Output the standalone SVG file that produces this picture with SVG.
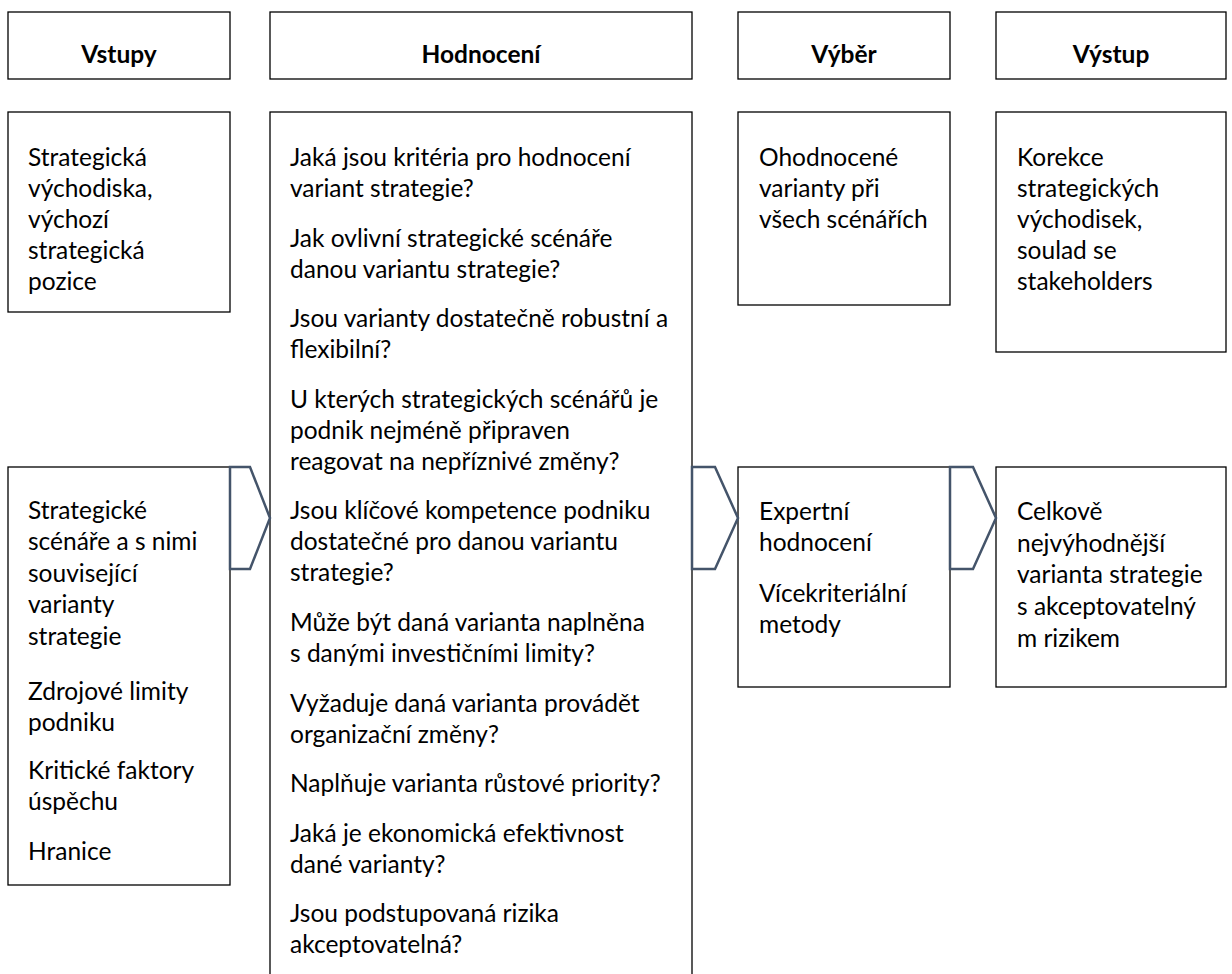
<svg xmlns="http://www.w3.org/2000/svg" width="1232" height="974" viewBox="0 0 1232 974">
  <style>
    .box{fill:#fff;stroke:#000;stroke-width:1.3}
    .t{font-family:Lato,"Open Sans","Liberation Sans",sans-serif;font-size:24.5px;fill:#000}
    .h{font-weight:bold;text-anchor:middle}
    .chev{fill:#fff;stroke:#44546A;stroke-width:2.5;stroke-linejoin:miter}
  </style>
  <rect width="1232" height="974" fill="#fff"/>

  <!-- column headers -->
  <g id="head-vstupy">
    <rect class="box" x="8" y="12" width="222" height="67"/>
    <text class="t h" x="119" y="63">Vstupy</text>
  </g>
  <g id="head-hodnoceni">
    <rect class="box" x="270" y="12" width="422" height="67"/>
    <text class="t h" x="481" y="63">Hodnocení</text>
  </g>
  <g id="head-vyber">
    <rect class="box" x="738" y="12" width="212" height="67"/>
    <text class="t h" x="844" y="63">Výběr</text>
  </g>
  <g id="head-vystup">
    <rect class="box" x="996" y="12" width="230" height="67"/>
    <text class="t h" x="1111" y="63">Výstup</text>
  </g>

  <!-- upper row -->
  <g id="vychodiska">
    <rect class="box" x="8" y="112" width="222" height="200"/>
    <text class="t">
      <tspan x="28" y="166">Strategická</tspan>
      <tspan x="28" y="197">východiska,</tspan>
      <tspan x="28" y="228">výchozí</tspan>
      <tspan x="28" y="259">strategická</tspan>
      <tspan x="28" y="290">pozice</tspan>
    </text>
  </g>

  <g id="otazky">
    <rect class="box" x="270" y="112" width="422" height="880"/>
    <text class="t">
      <tspan x="290" y="166">Jaká jsou kritéria pro hodnocení</tspan>
      <tspan x="290" y="197">variant strategie?</tspan>
      <tspan x="290" y="247">Jak ovlivní strategické scénáře</tspan>
      <tspan x="290" y="278">danou variantu strategie?</tspan>
      <tspan x="290" y="327">Jsou varianty dostatečně robustní a</tspan>
      <tspan x="290" y="358">flexibilní?</tspan>
      <tspan x="290" y="408">U kterých strategických scénářů je</tspan>
      <tspan x="290" y="439">podnik nejméně připraven</tspan>
      <tspan x="290" y="470">reagovat na nepříznivé změny?</tspan>
      <tspan x="290" y="519">Jsou klíčové kompetence podniku</tspan>
      <tspan x="290" y="550">dostatečné pro danou variantu</tspan>
      <tspan x="290" y="581">strategie?</tspan>
      <tspan x="290" y="631">Může být daná varianta naplněna</tspan>
      <tspan x="290" y="662">s danými investičními limity?</tspan>
      <tspan x="290" y="712">Vyžaduje daná varianta provádět</tspan>
      <tspan x="290" y="743">organizační změny?</tspan>
      <tspan x="290" y="792">Naplňuje varianta růstové priority?</tspan>
      <tspan x="290" y="842">Jaká je ekonomická efektivnost</tspan>
      <tspan x="290" y="873">dané varianty?</tspan>
      <tspan x="290" y="922">Jsou podstupovaná rizika</tspan>
      <tspan x="290" y="953">akceptovatelná?</tspan>
    </text>
  </g>

  <g id="ohodnocene">
    <rect class="box" x="738" y="112" width="212" height="193"/>
    <text class="t">
      <tspan x="759" y="166">Ohodnocené</tspan>
      <tspan x="759" y="197">varianty při</tspan>
      <tspan x="759" y="228">všech scénářích</tspan>
    </text>
  </g>

  <g id="korekce">
    <rect class="box" x="996" y="112" width="230" height="240"/>
    <text class="t">
      <tspan x="1017" y="166">Korekce</tspan>
      <tspan x="1017" y="197">strategických</tspan>
      <tspan x="1017" y="228">východisek,</tspan>
      <tspan x="1017" y="259">soulad se</tspan>
      <tspan x="1017" y="290">stakeholders</tspan>
    </text>
  </g>

  <!-- lower row -->
  <g id="scenare">
    <rect class="box" x="8" y="467" width="222" height="418"/>
    <text class="t">
      <tspan x="28" y="519">Strategické</tspan>
      <tspan x="28" y="550">scénáře a s nimi</tspan>
      <tspan x="28" y="582">související</tspan>
      <tspan x="28" y="613">varianty</tspan>
      <tspan x="28" y="645">strategie</tspan>
      <tspan x="28" y="700">Zdrojové limity</tspan>
      <tspan x="28" y="731">podniku</tspan>
      <tspan x="28" y="779">Kritické faktory</tspan>
      <tspan x="28" y="810">úspěchu</tspan>
      <tspan x="28" y="860">Hranice</tspan>
    </text>
  </g>

  <g id="metody">
    <rect class="box" x="738" y="467" width="212" height="220"/>
    <text class="t">
      <tspan x="759" y="520">Expertní</tspan>
      <tspan x="759" y="551">hodnocení</tspan>
      <tspan x="759" y="602">Vícekriteriální</tspan>
      <tspan x="759" y="633">metody</tspan>
    </text>
  </g>

  <g id="vysledek">
    <rect class="box" x="996" y="467" width="230" height="220"/>
    <text class="t">
      <tspan x="1017" y="520">Celkově</tspan>
      <tspan x="1017" y="552">nejvýhodnější</tspan>
      <tspan x="1017" y="583">varianta strategie</tspan>
      <tspan x="1017" y="615">s akceptovatelný</tspan>
      <tspan x="1017" y="647">m rizikem</tspan>
    </text>
  </g>

  <!-- chevron connectors between stages -->
  <g id="connectors">
    <path class="chev" d="M230,467 H250 L270,518 L250,569 H230 Z"/>
    <path class="chev" d="M692,467 H715 L738,518 L715,569 H692 Z"/>
    <path class="chev" d="M950,467 H973 L996,518 L973,569 H950 Z"/>
  </g>
</svg>
